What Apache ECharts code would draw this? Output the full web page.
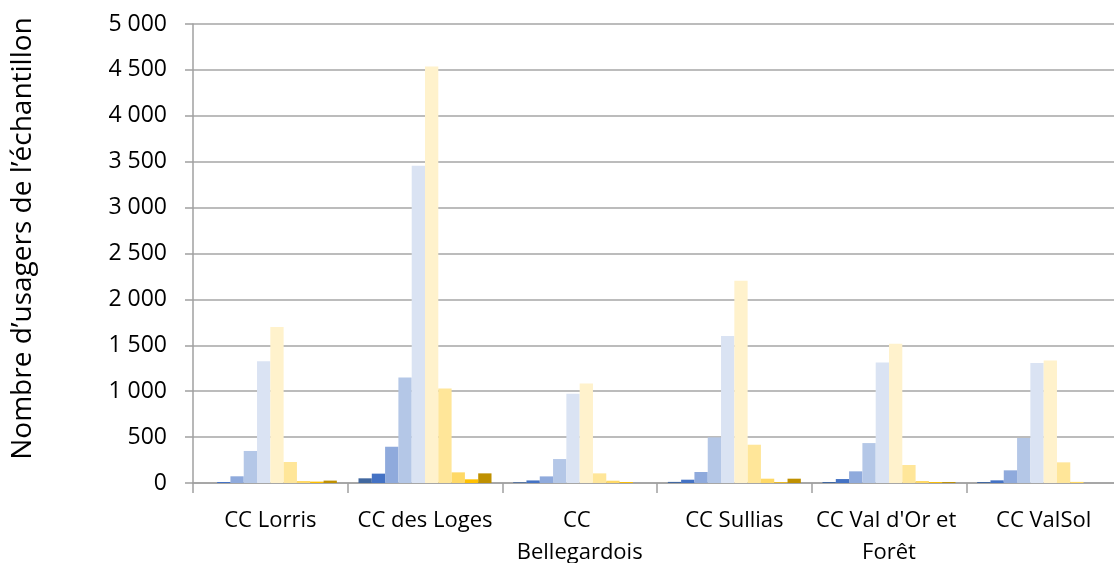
<!DOCTYPE html>
<html>
<head>
<meta charset="utf-8">
<script src="https://cdn.jsdelivr.net/npm/echarts@6/dist/echarts.min.js"></script>
<style>
  html, body { margin: 0; padding: 0; background: #fff; }
  #chart { width: 1114px; height: 563px; }
</style>
</head>
<body>
<div id="chart"></div>
<script>
var categories = ['CC Lorris', 'CC des Loges', 'CC Bellegardois', 'CC Sullias', "CC Val d'Or et Forêt", 'CC ValSol'];

// one array per bar of a group, left to right
var s1 = [0, 51, 8, 12, 11, 11];
var s2 = [11, 102, 28, 36, 43, 29];
var s3 = [73, 395, 72, 120, 127, 138];
var s4 = [349, 1150, 261, 497, 435, 490];
var s5 = [1326, 3457, 972, 1600, 1313, 1306];
var s6 = [1699, 4537, 1084, 2202, 1516, 1335];
var s7 = [229, 1030, 105, 417, 196, 225];
var s8 = [22, 116, 25, 47, 22, 12];
var s9 = [15, 40, 10, 8, 10, 0];
var s10 = [26, 105, 0, 47, 10, 0];

var seriesData = [s1, s2, s3, s4, s5, s6, s7, s8, s9, s10];
var colors = ['#41679f', '#4472c4', '#8faadc', '#b4c7e7', '#dae3f3',
              '#fff2cc', '#ffe699', '#ffd966', '#ffc000', '#bf9000'];

var yTitle = 'Nombre d\u2019usagers de l\u2019échantillon';
var font = '"Open Sans", sans-serif';

var myChart = echarts.init(document.getElementById('chart'));

var series = seriesData.map(function (d, i) {
	return {
		name: 'S' + (i + 1),
		type: 'bar',
		data: d,
		barGap: '0%',
		barCategoryGap: '14%',
		itemStyle: { color: colors[i] }
	};
});

var option = {
	animation: false,
	color: colors,
	grid: {
		left: 193,
		right: -7,
		top: 24,
		bottom: 80,
		outerBoundsMode: 'none'
	},
	xAxis: {
		type: 'category',
		data: categories,
		axisLine: { lineStyle: { color: '#a0a0a0', width: 1.5 } },
		axisTick: { show: true, length: 10, lineStyle: { color: '#a0a0a0', width: 1.5 } },
		axisLabel: {
			color: '#000',
			fontFamily: font,
			fontSize: 22,
			lineHeight: 32,
			margin: 22,
			width: 150,
			overflow: 'break',
			interval: 0
		}
	},
	yAxis: {
		type: 'value',
		min: 0,
		max: 5000,
		interval: 500,
		name: yTitle,
		nameLocation: 'middle',
		nameGap: 156,
		nameTextStyle: {
			color: '#000',
			fontFamily: font,
			fontSize: 28,
			padding: [0, 0, 0, 30]
		},
		axisLine: { show: true, lineStyle: { color: '#a0a0a0', width: 1.5 } },
		axisTick: { show: true, length: 8, lineStyle: { color: '#a0a0a0', width: 1.5 } },
		splitLine: { lineStyle: { color: '#a6a6a6', width: 1.5 } },
		axisLabel: {
			color: '#000',
			fontFamily: font,
			fontSize: 23,
			margin: 26,
			formatter: function (v) {
				return String(v).replace(/\B(?=(\d{3})+(?!\d))/g, ' ');
			}
		}
	},
	series: series
};

myChart.setOption(option);
</script>
</body>
</html>
